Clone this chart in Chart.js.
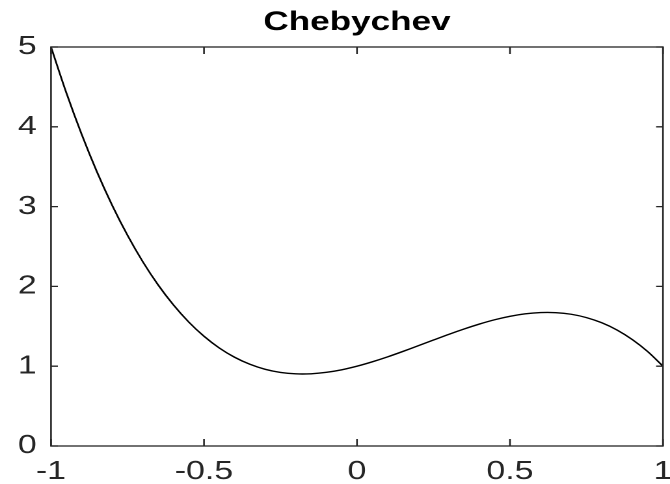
<!DOCTYPE html>
<html>
<head>
<meta charset="utf-8">
<script src="https://cdn.jsdelivr.net/npm/chart.js@4"></script>
<style>
  html, body { margin: 0; padding: 0; background: #fff; overflow: hidden; }
  #c { display: block; width: 670px !important; height: 484px !important; }
</style>
</head>
<body>
<canvas id="c" width="515" height="484" style="width:670px;height:484px;display:block"></canvas>
<script>
// ---- data ----
const xValues = [-1, -0.95, -0.9, -0.85, -0.8, -0.75, -0.7, -0.65, -0.6, -0.55, -0.5,
                 -0.45, -0.4, -0.35, -0.3, -0.25, -0.2, -0.15, -0.1, -0.05, 0,
                 0.05, 0.1, 0.15, 0.2, 0.25, 0.3, 0.35, 0.4, 0.45, 0.5,
                 0.55, 0.6, 0.65, 0.7, 0.75, 0.8, 0.85, 0.9, 0.95, 1];
const yValues = [5.000, 4.427, 3.907, 3.437, 3.016, 2.641, 2.309, 2.019, 1.768, 1.554, 1.375,
                 1.228, 1.112, 1.024, 0.961, 0.922, 0.904, 0.905, 0.923, 0.955, 1.000,
                 1.055, 1.117, 1.185, 1.256, 1.328, 1.399, 1.466, 1.528, 1.582, 1.625,
                 1.656, 1.672, 1.671, 1.651, 1.609, 1.544, 1.453, 1.333, 1.183, 1.000];
const xTickValues = [-1, -0.5, 0, 0.5, 1];
const xTickLabels = ['-1', '-0.5', '0', '0.5', '1'];
const yTickValues = [0, 1, 2, 3, 4, 5];
const yTickLabels = ['0', '1', '2', '3', '4', '5'];
const titleText = 'Chebychev';

const points = xValues.map((x, i) => ({ x: x, y: yValues[i] }));

const AXIS_COLOR = '#262626';
const FONT = '"Liberation Sans", Arial, Helvetica, sans-serif';

const boxPlugin = {
  id: 'matlabBox',
  afterDatasetsDraw(chart) {
    const { ctx, chartArea: a, scales } = chart;
    ctx.save();
    ctx.strokeStyle = AXIS_COLOR;
    ctx.lineWidth = 1.3;
    ctx.beginPath();
    scales.x.ticks.forEach(t => {
      const px = scales.x.getPixelForValue(t.value);
      ctx.moveTo(px, a.bottom); ctx.lineTo(px, a.bottom - 7);
      ctx.moveTo(px, a.top); ctx.lineTo(px, a.top + 7);
    });
    scales.y.ticks.forEach(t => {
      const py = scales.y.getPixelForValue(t.value);
      ctx.moveTo(a.left, py); ctx.lineTo(a.left + 5.3, py);
      ctx.moveTo(a.right, py); ctx.lineTo(a.right - 5.3, py);
    });
    ctx.stroke();
    ctx.strokeRect(a.left, a.top, a.right - a.left, a.bottom - a.top);
    ctx.restore();
  }
};

new Chart(document.getElementById('c'), {
  type: 'line',
  data: {
    datasets: [{
      data: points,
      borderColor: '#000000',
      borderWidth: 1.4,
      pointRadius: 0,
      fill: false,
      tension: 0.3
    }]
  },
  options: {
    responsive: false,
    animation: false,
    devicePixelRatio: 2,
    layout: { padding: { left: 0, right: 5.4, top: 0, bottom: 0 } },
    plugins: {
      legend: { display: false },
      tooltip: { enabled: false },
      title: {
        display: true,
        fullSize: false,
        text: titleText,
        color: '#000000',
        font: { family: FONT, size: 27, weight: 'bold', lineHeight: 1.2 },
        padding: { top: 6.3, bottom: 8.3 }
      }
    },
    scales: {
      x: {
        type: 'linear',
        min: -1, max: 1,
        afterBuildTicks(scale) { scale.ticks = xTickValues.map(v => ({ value: v })); },
        afterFit(scale) { scale.height = 38; scale.paddingLeft = 0; scale.paddingRight = 0; },
        grid: { display: false, drawTicks: false },
        border: { display: false },
        ticks: {
          color: AXIS_COLOR,
          font: { family: FONT, size: 26 },
          padding: 10,
          maxRotation: 0,
          autoSkip: false,
          callback: (v) => xTickLabels[xTickValues.indexOf(v)]
        }
      },
      y: {
        type: 'linear',
        min: 0, max: 5,
        afterBuildTicks(scale) { scale.ticks = yTickValues.map(v => ({ value: v })); },
        afterFit(scale) { scale.width = 39.2; scale.paddingTop = 0; scale.paddingBottom = 0; },
        grid: { display: false, drawTicks: false },
        border: { display: false },
        ticks: {
          color: AXIS_COLOR,
          font: { family: FONT, size: 26 },
          padding: 11,
          autoSkip: false,
          callback: (v) => yTickLabels[yTickValues.indexOf(v)]
        }
      }
    }
  },
  plugins: [boxPlugin]
});
</script>
</body>
</html>
